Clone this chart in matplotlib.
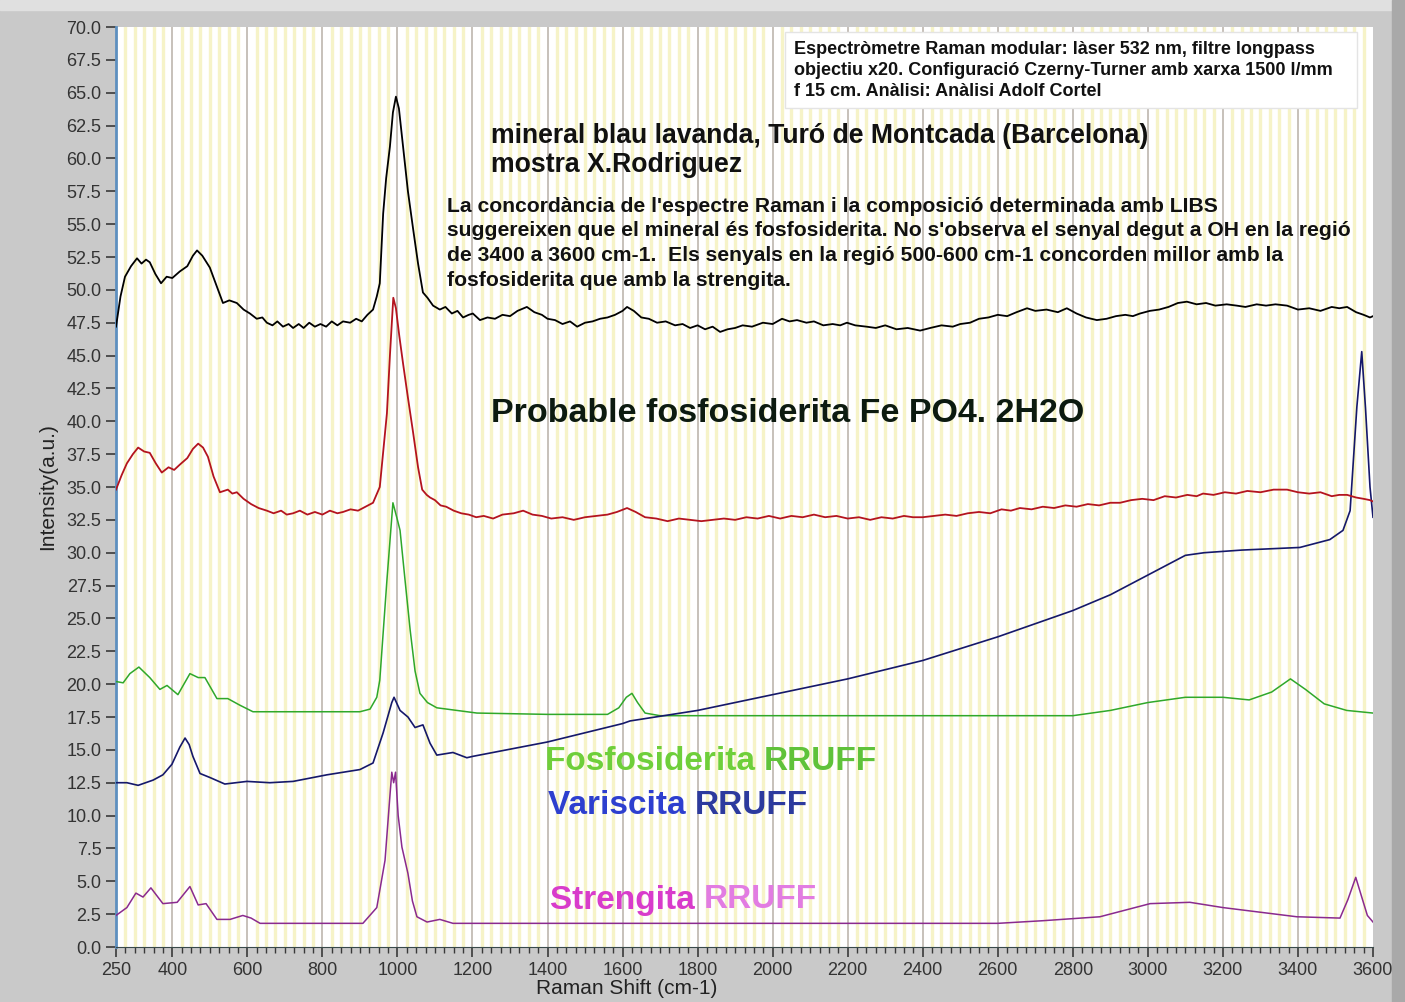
import numpy as np
import matplotlib.pyplot as plt
from matplotlib.patches import Rectangle
from matplotlib.ticker import MultipleLocator

# measured sample (black)
mostra_x = [250, 262, 274, 290, 306, 318, 330, 340, 355, 370, 385, 400, 420, 440, 455, 466, 480, 500, 517, 535,
            552, 572, 590, 607, 625, 640, 652, 667, 680, 695, 710, 722, 737, 750, 765, 780, 795, 810, 825, 840,
            855, 874, 890, 905, 920, 935, 945, 953, 962, 970, 980, 988, 996, 1004, 1015, 1028, 1042, 1055, 1068, 1080,
            1095, 1113, 1128, 1145, 1160, 1175, 1190, 1201, 1220, 1240, 1260, 1280, 1300, 1320, 1345, 1365, 1385, 1400, 1420, 1440,
            1460, 1479, 1500, 1520, 1540, 1560, 1580, 1600, 1612, 1630, 1650, 1670, 1692, 1715, 1740, 1760, 1780, 1800, 1820, 1840,
            1860, 1880, 1900, 1920, 1945, 1974, 2000, 2025, 2045, 2065, 2090, 2110, 2135, 2160, 2180, 2198, 2220, 2250, 2275, 2300,
            2330, 2360, 2393, 2420, 2450, 2480, 2500, 2526, 2550, 2575, 2600, 2625, 2650, 2678, 2700, 2730, 2760, 2784, 2810, 2835,
            2864, 2890, 2915, 2940, 2960, 2979, 3005, 3030, 3055, 3080, 3104, 3130, 3155, 3180, 3210, 3237, 3260, 3290, 3315, 3340,
            3371, 3400, 3430, 3460, 3490, 3510, 3531, 3555, 3575, 3592, 3600]
mostra_y = [47.2, 49.5, 51.0, 51.8, 52.4, 52.0, 52.3, 52.1, 51.2, 50.5, 51.0, 50.9, 51.4, 51.8, 52.6, 53.0, 52.6, 51.7, 50.4, 49.0,
            49.2, 49.0, 48.5, 48.2, 47.8, 47.9, 47.5, 47.3, 47.6, 47.2, 47.4, 47.1, 47.4, 47.1, 47.5, 47.2, 47.4, 47.2, 47.6, 47.3,
            47.6, 47.5, 47.8, 47.6, 48.1, 48.5, 49.5, 50.5, 55.8, 58.5, 60.9, 63.5, 64.7, 63.8, 60.9, 57.5, 54.6, 52.0, 49.8, 49.4,
            48.8, 48.5, 48.7, 48.2, 48.4, 47.9, 48.1, 48.2, 47.7, 47.9, 47.8, 48.1, 48.0, 48.4, 48.7, 48.3, 48.1, 47.8, 47.7, 47.4,
            47.6, 47.2, 47.5, 47.6, 47.8, 47.9, 48.1, 48.4, 48.7, 48.4, 47.9, 47.8, 47.5, 47.6, 47.3, 47.4, 47.1, 47.3, 47.0, 47.2,
            46.8, 47.0, 47.1, 47.3, 47.2, 47.5, 47.4, 47.8, 47.6, 47.7, 47.5, 47.6, 47.3, 47.4, 47.3, 47.5, 47.3, 47.2, 47.1, 47.3,
            47.0, 47.1, 46.9, 47.1, 47.3, 47.2, 47.4, 47.5, 47.8, 47.9, 48.1, 48.0, 48.3, 48.6, 48.4, 48.5, 48.3, 48.6, 48.2, 47.9,
            47.7, 47.8, 48.0, 48.1, 48.0, 48.2, 48.4, 48.5, 48.7, 49.0, 49.1, 48.9, 49.0, 48.8, 48.9, 48.8, 48.7, 48.9, 48.8, 48.9,
            48.8, 48.5, 48.6, 48.4, 48.7, 48.6, 48.7, 48.3, 48.1, 47.9, 48.0]

# same sample, second spectrum (red)
mostra2_x = [250, 265, 279, 295, 309, 325, 340, 356, 372, 390, 405, 420, 440, 455, 469, 482, 495, 510, 527, 548,
             560, 572, 590, 610, 630, 652, 670, 690, 705, 722, 740, 760, 780, 800, 820, 840, 855, 875, 895, 915,
             935, 953, 965, 972, 980, 989, 996, 1005, 1015, 1028, 1041, 1055, 1066, 1078, 1087, 1100, 1115, 1130, 1150, 1170,
             1190, 1210, 1230, 1255, 1280, 1310, 1335, 1360, 1385, 1410, 1440, 1470, 1500, 1530, 1560, 1585, 1612, 1635, 1660, 1690,
             1720, 1750, 1780, 1810, 1841, 1870, 1900, 1930, 1960, 1990, 2020, 2050, 2080, 2110, 2140, 2170, 2200, 2230, 2260, 2290,
             2320, 2350, 2374, 2400, 2430, 2460, 2490, 2520, 2550, 2580, 2610, 2635, 2659, 2690, 2720, 2750, 2780, 2810, 2840, 2870,
             2900, 2926, 2955, 2985, 3015, 3045, 3075, 3105, 3130, 3147, 3175, 3205, 3235, 3265, 3300, 3335, 3371, 3400, 3430, 3460,
             3490, 3510, 3531, 3555, 3575, 3592, 3600]
mostra2_y = [34.8, 35.9, 36.8, 37.5, 38.0, 37.7, 37.6, 36.8, 36.1, 36.5, 36.3, 36.7, 37.2, 37.9, 38.3, 38.0, 37.3, 35.8, 34.6, 34.8,
             34.5, 34.6, 34.1, 33.7, 33.4, 33.2, 33.0, 33.2, 32.9, 33.0, 33.2, 32.9, 33.1, 32.9, 33.2, 33.0, 33.1, 33.3, 33.2, 33.5,
             33.8, 35.0, 38.5, 40.6, 45.0, 49.4, 48.6, 46.5, 44.4, 41.8, 39.3, 36.5, 34.8, 34.4, 34.2, 34.0, 33.6, 33.5, 33.2, 33.0,
             32.9, 32.7, 32.8, 32.6, 32.9, 33.0, 33.2, 32.9, 32.8, 32.6, 32.7, 32.5, 32.7, 32.8, 32.9, 33.1, 33.4, 33.1, 32.7, 32.6,
             32.4, 32.6, 32.5, 32.4, 32.5, 32.6, 32.5, 32.7, 32.6, 32.8, 32.6, 32.8, 32.7, 32.9, 32.7, 32.8, 32.6, 32.7, 32.5, 32.7,
             32.6, 32.8, 32.7, 32.7, 32.8, 32.9, 32.8, 33.0, 33.1, 33.0, 33.3, 33.2, 33.4, 33.3, 33.5, 33.4, 33.6, 33.5, 33.7, 33.6,
             33.8, 33.8, 34.0, 34.1, 34.0, 34.3, 34.2, 34.4, 34.3, 34.5, 34.4, 34.6, 34.5, 34.7, 34.6, 34.8, 34.8, 34.6, 34.5, 34.6,
             34.3, 34.4, 34.4, 34.2, 34.1, 34.0, 33.9]

# RRUFF references
fosfo_x = [250, 269, 287, 311, 340, 367, 386, 415, 447, 469, 487, 519, 548, 580, 615, 767, 900, 927, 945, 953,
           972, 988, 1000, 1007, 1020, 1034, 1047, 1060, 1080, 1105, 1212, 1400, 1560, 1590, 1610, 1625, 1640, 1660, 1700, 2800,
           2900, 3000, 3100, 3200, 3270, 3330, 3380, 3420, 3470, 3530, 3600]
fosfo_y = [20.2, 20.1, 20.8, 21.3, 20.5, 19.6, 19.9, 19.2, 20.8, 20.5, 20.5, 18.9, 18.9, 18.4, 17.9, 17.9, 17.9, 18.1, 19.0, 20.3,
           27.9, 33.8, 32.5, 31.7, 28.0, 24.1, 21.0, 19.3, 18.6, 18.2, 17.8, 17.7, 17.7, 18.2, 19.0, 19.3, 18.6, 17.8, 17.6, 17.6,
           18.0, 18.6, 19.0, 19.0, 18.8, 19.4, 20.4, 19.6, 18.5, 18.0, 17.8]

varis_x = [250, 279, 309, 349, 375, 399, 420, 434, 445, 455, 474, 500, 540, 599, 660, 722, 812, 900, 935, 962,
           972, 985, 991, 1007, 1028, 1047, 1068, 1087, 1105, 1148, 1185, 1200, 1400, 1600, 1620, 1800, 2000, 2200, 2400, 2600,
           2800, 2900, 3000, 3100, 3150, 3250, 3405, 3485, 3520, 3539, 3557, 3570, 3580, 3592, 3600]
varis_y = [12.5, 12.5, 12.3, 12.7, 13.1, 13.9, 15.2, 15.9, 15.4, 14.5, 13.2, 12.9, 12.4, 12.6, 12.5, 12.6, 13.1, 13.5, 14.0, 16.3,
           17.3, 18.6, 19.0, 18.0, 17.5, 16.7, 16.9, 15.5, 14.6, 14.8, 14.4, 14.5, 15.6, 17.0, 17.2, 18.0, 19.2, 20.4, 21.8, 23.6,
           25.6, 26.8, 28.3, 29.8, 30.0, 30.2, 30.4, 31.0, 31.7, 33.2, 41.1, 45.3, 41.0, 35.0, 32.7]

streng_x = [250, 279, 303, 322, 343, 375, 413, 447, 469, 490, 519, 554, 588, 610, 634, 767, 908, 945, 967, 980,
            985, 990, 995, 1002, 1012, 1028, 1040, 1052, 1079, 1113, 1148, 2600, 2720, 2872, 3006, 3112, 3200, 3397, 3512, 3533,
            3554, 3570, 3585, 3600]
streng_y = [2.4, 3.0, 4.1, 3.8, 4.5, 3.3, 3.4, 4.6, 3.2, 3.3, 2.1, 2.1, 2.4, 2.2, 1.8, 1.8, 1.8, 3.0, 6.6, 11.5,
            13.3, 12.5, 13.3, 10.0, 7.6, 5.6, 3.5, 2.3, 1.9, 2.1, 1.8, 1.8, 2.0, 2.3, 3.3, 3.4, 3.0, 2.3, 2.2, 3.6,
            5.3, 3.8, 2.4, 1.9]

info_lines = ["Espectròmetre Raman modular: làser 532 nm, filtre longpass",
              "objectiu x20. Configuració Czerny-Turner amb xarxa 1500 l/mm",
              "f 15 cm. Anàlisi: Anàlisi Adolf Cortel"]
para_lines = ["La concordància de l'espectre Raman i la composició determinada amb LIBS",
              "suggereixen que el mineral és fosfosiderita. No s'observa el senyal degut a OH en la regió",
              "de 3400 a 3600 cm-1.  Els senyals en la regió 500-600 cm-1 concorden millor amb la",
              "fosfosiderita que amb la strengita."]

W, H = 1405, 1002
fig = plt.figure(figsize=(W / 100, H / 100), dpi=100, facecolor='#c9c9c9')
plt.rcParams['font.family'] = ['Liberation Sans', 'DejaVu Sans']

# frame of the LabVIEW panel
fig.patches.append(Rectangle((0, 1 - 10 / H), 1, 10 / H, transform=fig.transFigure, color='#e0e0e0', zorder=-2))
fig.patches.append(Rectangle((1392 / W, 0), 13 / W, 1, transform=fig.transFigure, color='#a9a9a9', zorder=-2))

ax = fig.add_axes([116 / W, 1 - 947 / H, (1373 - 116) / W, (947 - 27) / H])
ax.set_facecolor('white')

ax.set_xlim(250, 3600)
ax.set_ylim(0, 70)
ax.xaxis.set_minor_locator(MultipleLocator(25))
ax.yaxis.set_major_locator(MultipleLocator(2.5))
ax.set_xticks([250] + list(range(400, 3601, 200)))
ax.yaxis.set_major_formatter(plt.FormatStrFormatter('%.1f'))

# vertical grid: pale yellow every 25, grey at the major ticks
for gx in np.arange(275, 3600, 25):
    if gx % 200 == 0:
        ax.axvline(gx, color='#bdb6ae', lw=1.2, zorder=1)
    else:
        ax.axvline(gx, color='#f6f3c8', lw=2.4, zorder=1)

ax.plot(mostra_x, mostra_y, color='black', lw=1.3, zorder=5)
ax.plot(mostra2_x, mostra2_y, color='#b4141e', lw=1.3, zorder=5)
ax.plot(fosfo_x, fosfo_y, color='#2fa82a', lw=1.1, zorder=4)
ax.plot(varis_x, varis_y, color='#15186a', lw=1.2, zorder=4)
ax.plot(streng_x, streng_y, color='#8a2a8e', lw=1.1, zorder=4)

for s in ['top', 'right']:
    ax.spines[s].set_visible(False)
ax.spines['left'].set_color('#5d8fbf')
ax.spines['left'].set_linewidth(2)
ax.spines['bottom'].set_color('#3a4a4a')
ax.tick_params(axis='both', which='major', length=7, width=1.2, colors='#3a3a3a', labelsize=13, labelcolor='#333333')
ax.tick_params(axis='x', which='minor', length=4, width=1, colors='#3a3a3a')
ax.tick_params(axis='y', which='minor', length=0)

fig.text(48 / W, 1 - 487 / H, 'Intensity(a.u.)', fontsize=15, color='#222222', rotation=90, ha='center', va='center')
fig.text(627 / W, 1 - 989 / H, 'Raman Shift (cm-1)', fontsize=15, color='#222222', ha='center', va='center')


def ftext(px, py, s, **kw):
    return fig.text(px / W, 1 - py / H, s, va='center', **kw)


# info box
fig.patches.append(Rectangle((785 / W, 1 - 108 / H), 572 / W, 76 / H, transform=fig.transFigure,
                             facecolor='white', edgecolor='#e4e4e4', lw=1, zorder=3))
for i, line in enumerate(info_lines):
    ftext(794, 49 + 21.5 * i, line, fontsize=13, fontweight='bold', color='#111111', zorder=6)

ftext(491, 136, 'mineral blau lavanda, Turó de Montcada (Barcelona)', fontsize=19.2, fontweight='bold', color='#111111', zorder=6)
ftext(491, 165, 'mostra X.Rodriguez', fontsize=19.2, fontweight='bold', color='#111111', zorder=6)

for i, line in enumerate(para_lines):
    ftext(447, 206 + 24.7 * i, line, fontsize=15.2, fontweight='bold', color='#111111', zorder=6)

ftext(491, 413, 'Probable fosfosiderita Fe PO4. 2H2O', fontsize=24.5, fontweight='bold', color='#0c1a10', zorder=6)

fig.canvas.draw()
t = ftext(545, 762, 'Fosfosiderita ', fontsize=24, fontweight='bold', color='#6fcf3a', zorder=6)
ftext(t.get_window_extent(fig.canvas.get_renderer()).x1, 762, 'RRUFF', fontsize=24, fontweight='bold', color='#5fc23a', zorder=6)

t = ftext(548, 805, 'Variscita ', fontsize=24, fontweight='bold', color='#2d3fcf', zorder=6)
ftext(t.get_window_extent(fig.canvas.get_renderer()).x1, 805, 'RRUFF', fontsize=24, fontweight='bold', color='#2c3a9e', zorder=6)

t = ftext(550, 900, 'Strengita ', fontsize=24, fontweight='bold', color='#d83ccb', zorder=6)
ftext(t.get_window_extent(fig.canvas.get_renderer()).x1, 900, 'RRUFF', fontsize=24, fontweight='bold', color='#e27ce2', zorder=6)

fig.savefig('out.png', dpi=100, facecolor=fig.get_facecolor())
